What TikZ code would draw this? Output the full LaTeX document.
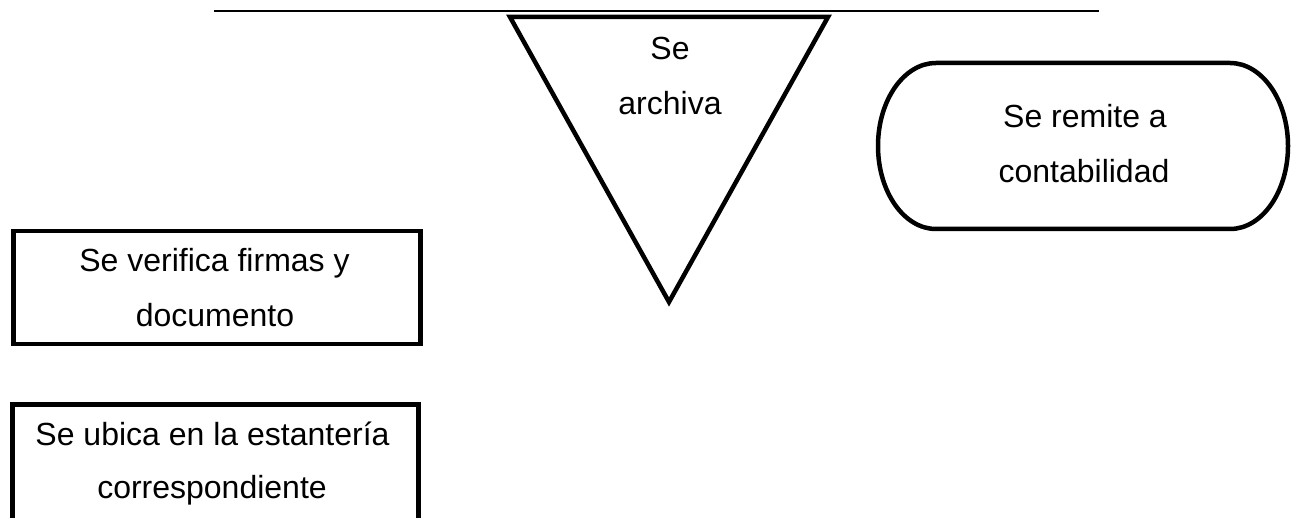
\documentclass[tikz,border=0pt]{standalone}
\usepackage{fontspec}
\setmainfont{Liberation Sans}
\tikzset{
  shapeline/.style={draw=black, line width=4.5pt, line join=miter},
  topline/.style={draw=black, line width=1.8pt},
  lbl/.style={inner sep=0pt, anchor=base, font=\fontsize{32}{38}\selectfont},
  boxnode/.style={shapeline, rectangle, inner sep=0pt, anchor=north west}
}
\begin{document}
\begin{tikzpicture}[x=1pt, y=-1pt]
\useasboundingbox (0,0) rectangle (1298,518);
\begin{scope}
\clip (0,0) rectangle (1298,518);
% top rule
\coordinate (lineL) at (214,10.7);
\coordinate (lineR) at (1099,10.7);
\draw[topline] (lineL) -- (lineR);
% triangle (archive)
\coordinate (triA) at (510,17);
\coordinate (triB) at (828,17);
\coordinate (triC) at (669,302);
\draw[shapeline] (triA) -- (triB) -- (triC) -- cycle;
\node[lbl] (t1) at (670,60) {Se};
\node[lbl] (t2) at (670,115) {archiva};
% rounded terminal
\draw[shapeline] (936,63) -- (1230,63)
  arc[start angle=-90, end angle=90, x radius=58, y radius=83]
  -- (936,229)
  arc[start angle=90, end angle=270, x radius=58, y radius=83] -- cycle;
\node[lbl] (r1) at (1085,128) {Se remite a};
\node[lbl] (r2) at (1084,183) {contabilidad};
% rectangle 1
\node[boxnode, minimum width=407pt, minimum height=113pt] (box1) at (11,229) {};
\node[lbl] (b1a) at (214.5,272) {Se verifica firmas y};
\node[lbl] (b1b) at (215,327) {documento};
% rectangle 2 (cut off at bottom)
\node[boxnode, minimum width=406pt, minimum height=160pt] (box2) at (10,402) {};
\node[lbl] (b2a) at (212.5,445) {Se ubica en la estantería};
\node[lbl] (b2b) at (212,498) {correspondiente};
\end{scope}
\end{tikzpicture}
\end{document}
